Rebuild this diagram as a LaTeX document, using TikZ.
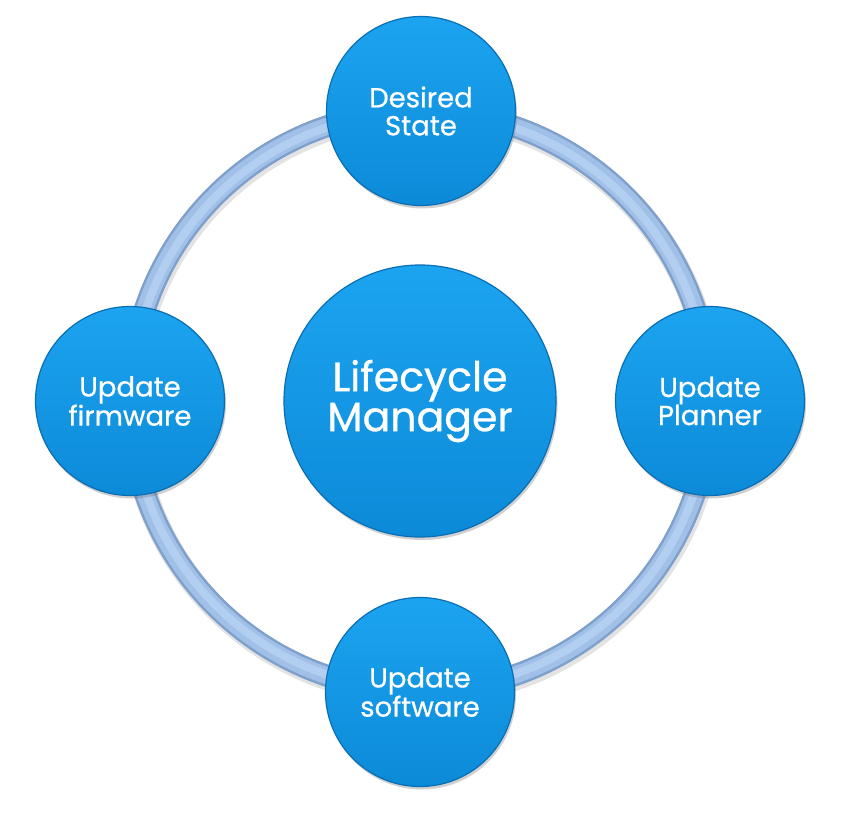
\documentclass[tikz,border=0pt]{standalone}
\usepackage{fontspec}
\setmainfont{Poppins}
\newfontfamily\ballfont{Poppins}[FakeBold=0.7]
\usetikzlibrary{shadows}
\definecolor{ctop}{RGB}{28,164,240}
\definecolor{cbot}{RGB}{12,138,216}
\definecolor{crim}{RGB}{10,110,180}
\definecolor{ringedge}{RGB}{128,160,204}
\definecolor{ringmid}{RGB}{160,192,232}
\definecolor{ringhi}{RGB}{178,206,240}
\tikzset{
  ballbase/.style={circle, top color=ctop, bottom color=cbot, draw=crim, line width=1.2pt,
    text=white, align=center, inner sep=0pt,
    drop shadow={opacity=0.3, shadow xshift=1.5pt, shadow yshift=-3pt, fill=black!60}},
  smallball/.style={ballbase, minimum size=189pt, font=\ballfont\fontsize{27.5}{28}\selectfont},
  bigball/.style={ballbase, minimum size=272pt, font=\ballfont\fontsize{41}{40}\selectfont},
}
\begin{document}
\begin{tikzpicture}[x=1pt,y=-1pt]
\useasboundingbox[fill=white] (0,0) rectangle (853,819);
\coordinate (c) at (420,401);
% ring
\draw[black!50, opacity=0.22, line width=24pt] ([xshift=1.5pt,yshift=-3pt]c) circle (290pt);
\draw[ringedge, line width=22pt] (c) circle (290pt);
\draw[ringmid, line width=17pt] (c) circle (290pt);
\draw[ringhi, line width=8pt] (c) circle (289pt);
% balls
\node[bigball] (lcm) at (c) {Lifecycle\\Manager};
\node[smallball] (ds) at (421,111) {Desired\\State};
\node[smallball] (up) at (710,401) {Update\\Planner};
\node[smallball] (us) at (420,692) {Update\\software};
\node[smallball] (uf) at (130,401) {Update\\firmware};
\end{tikzpicture}
\end{document}
